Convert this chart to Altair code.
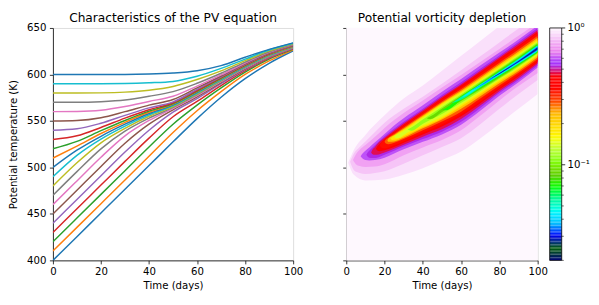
import altair as alt
import pandas as pd
import numpy as np

# ---------------- data: characteristics (left panel) ----------------
times = [0, 10, 20, 30, 40, 50, 60, 70, 80, 90, 100]
theta_start = [400, 410, 420, 430, 440, 450, 460, 470, 480, 490, 500,
               510, 520, 530, 540, 550, 560, 570, 580, 590, 600]
char_400 = [400, 425.5, 451, 476.5, 502, 527.5, 552.5, 575.5, 595.5, 612, 625.5]
char_410 = [410, 435.5, 461, 486.5, 512, 537.5, 561, 581.5, 600, 614.5, 626.5]
char_420 = [420, 445.5, 471, 496.5, 522, 546.5, 567, 585.5, 602.5, 616.5, 627.2]
char_430 = [430, 455.5, 481, 506.5, 531.5, 554.5, 571, 588, 604, 617.5, 627.8]
char_440 = [440, 465.5, 491, 516.5, 540, 559.5, 574, 590, 605.2, 618.3, 628.2]
char_450 = [450, 475.5, 501, 526, 546.5, 562, 576, 591.3, 606, 618.9, 628.6]
char_460 = [460, 485.5, 511, 534, 550.5, 563.5, 577.3, 592.2, 606.7, 619.4, 628.9]
char_470 = [470, 495.5, 520, 539, 553, 564.5, 578.3, 593, 607.3, 619.8, 629.2]
char_480 = [480, 505, 526.5, 542, 555, 565.5, 579.2, 593.7, 607.8, 620.2, 629.5]
char_490 = [490, 513, 530.5, 544.5, 556.5, 566.5, 580, 594.3, 608.3, 620.6, 629.8]
char_500 = [500, 518.5, 533.5, 546.5, 558, 567.3, 580.8, 595, 608.8, 621, 630.1]
char_510 = [510, 523, 536.5, 548.5, 559.3, 568, 581.5, 595.6, 609.3, 621.4, 630.4]
char_520 = [520, 528, 539.5, 550.5, 560.5, 568.8, 582.2, 596.2, 609.8, 621.8, 630.7]
char_530 = [530, 534, 543, 553, 562, 569.6, 583, 596.8, 610.3, 622.2, 631]
char_540 = [540, 541.5, 547.5, 556, 564, 570.5, 584, 597.5, 610.9, 622.6, 631.3]
char_550 = [550, 550.5, 553.5, 560, 567, 573, 585.5, 598.3, 611.5, 623.1, 631.7]
char_560 = [560, 560.2, 561.5, 565.5, 571, 576.5, 587.5, 599.5, 612.3, 623.7, 632.1]
char_570 = [570, 570, 570.7, 572.5, 576.5, 581.5, 590.5, 601.3, 613.3, 624.4, 632.5]
char_580 = [580, 580, 580.2, 581, 583, 587, 594.5, 603.8, 614.8, 625.3, 633]
char_590 = [590, 590, 590, 590.2, 591, 592.5, 598, 606.5, 616.5, 626.3, 633.5]
char_600 = [600, 600, 600, 600, 600.4, 601.5, 604, 609.5, 618.5, 627, 634]
characteristics = [char_400, char_410, char_420, char_430, char_440, char_450,
                   char_460, char_470, char_480, char_490, char_500, char_510,
                   char_520, char_530, char_540, char_550, char_560, char_570,
                   char_580, char_590, char_600]

# ---------------- data: PV depletion contours (right panel) ----------------
# contour level k means depletion value 10**(-k/10); each: (times, lower theta, upper theta)
contour_levels = [0.2, 0.5, 1, 1.5, 2, 2.5, 3, 3.5, 4, 5, 6, 7, 8, 9, 10, 11, 12, 13, 14, 15]
ct_02 = ([1, 4, 10, 20, 30, 40, 50, 60, 70, 80, 90, 100],
         [505, 492, 486, 487, 492, 499, 508, 517, 531, 547, 563, 579],
         [505, 519, 535, 556, 574, 588, 604, 620, 636, 652, 668, 684])
ct_05 = ([2, 4, 7, 10, 15, 20, 30, 40, 50, 60, 70, 80, 90, 100],
         [506, 497, 494, 493, 494, 496, 504, 513, 522, 531.5, 546.5, 563, 579, 594],
         [506, 515, 522, 528, 538, 548, 563, 576, 590, 604.5, 619.5, 634.5, 649.5, 664.5])
ct_1 = ([3.5, 5, 7, 10, 15, 20, 25, 30, 40, 50, 60, 70, 80, 90, 100],
        [508, 503.5, 501.5, 500.5, 501, 503.5, 508, 513, 521.5, 529.5, 540, 555.5, 572, 587.5, 601.5],
        [508, 514, 519, 524, 533, 542.5, 551, 558.5, 572, 586, 599.5, 613.5, 627.5, 641.5, 656])
ct_15 = ([5.5, 6.5, 8, 10, 12, 15, 20, 25, 30, 40, 50, 60, 70, 80, 90, 100],
         [510, 507, 505.5, 504.5, 504.5, 505, 508, 513, 518, 526, 534, 544.5, 559.5, 575.5, 590.3, 605.5],
         [510, 514, 517.5, 521, 524, 529.5, 538, 546.5, 554.5, 568.5, 582.5, 596.5, 610.5, 624.5, 639, 654])
ct_2 = ([7.5, 8.5, 10, 12, 15, 20, 25, 30, 40, 50, 60, 70, 80, 90, 100],
        [512, 509.5, 508, 507.5, 508, 510.5, 515, 519.5, 527.5, 535.5, 546, 561, 577, 591.7, 607.5],
        [512, 515, 518, 521.5, 527, 536, 545, 553, 567, 581.5, 595, 609.5, 623.5, 637.5, 652.6])
ct_25 = ([10.5, 11, 12, 14, 17, 20, 25, 30, 40, 50, 60, 70, 80, 90, 100],
         [513.5, 512, 510.5, 510, 511, 513.5, 518, 522.5, 530.5, 538.5, 549, 564, 580, 594, 609.7],
         [513.5, 515.5, 518, 522, 528, 533.5, 541.5, 549, 563, 578, 591.5, 606, 620.5, 635, 650])
ct_3 = ([13, 13.5, 15, 17, 20, 25, 30, 40, 50, 60, 70, 80, 90, 100],
        [516, 514.5, 513.5, 514, 516, 520, 524.5, 533, 541, 552, 566.5, 582, 596, 611.5],
        [516, 518.5, 522, 527, 532, 540, 547.5, 561.5, 576, 589.5, 604, 618.5, 633, 647.8])
ct_35 = ([15.5, 16, 17.5, 20, 25, 30, 40, 50, 60, 70, 80, 90, 100],
         [520, 518.5, 517.5, 518.5, 522, 526.5, 535.5, 544, 555, 569, 584, 598, 613],
         [520, 522, 525.5, 530.5, 538.5, 546, 560, 574.5, 588, 602.5, 617, 631, 645.9])
ct_4 = ([17.5, 18, 19.5, 22, 25, 30, 40, 50, 60, 70, 80, 90, 100],
        [524, 522, 520.5, 521.5, 524, 528, 537.5, 546.5, 557.4, 571, 585.5, 599.3, 614.4],
        [524, 526, 529.5, 533.5, 537.5, 545, 559, 573, 586, 600.8, 615.2, 629.4, 644.3])
ct_5 = ([20, 20.5, 22, 25, 30, 40, 50, 60, 70, 80, 90, 100],
        [527.5, 526, 525, 526.5, 530.5, 540, 549.5, 560, 574, 588.2, 601.8, 616.6],
        [527.5, 529.5, 532, 536, 543, 557, 571, 584, 598.4, 612.7, 626.8, 641.7])
ct_6 = ([21.5, 22, 25, 30, 40, 50, 60, 70, 80, 90, 100],
        [529, 527.5, 528, 532, 542, 551.5, 563, 576.6, 590.4, 603.8, 618.4],
        [529, 531, 535, 541.5, 555.5, 569.5, 582.5, 596.5, 610.7, 624.7, 639.5])
ct_7 = ([23, 24, 26, 30, 40, 50, 60, 70, 80, 90, 100],
        [531, 529.5, 530, 533.5, 543.5, 553, 565.5, 578.8, 592.3, 605.5, 620],
        [531, 533, 535.5, 540.5, 554.5, 568.5, 581, 594.9, 609, 622.9, 637.6])
ct_8 = ([25, 26, 28, 30, 40, 50, 60, 70, 80, 90, 100],
        [533, 531.5, 532, 535, 545, 554.5, 567.5, 580.7, 593.9, 606.9, 621.3],
        [533, 535, 537, 539.5, 553.5, 567.5, 580, 593.5, 607.5, 621.4, 636])
ct_9 = ([32, 34, 40, 50, 60, 70, 80, 90, 100],
        [541, 539.5, 547, 557.5, 569.5, 582.3, 595.3, 608.2, 622.5],
        [541, 543, 551.5, 565, 578.5, 592.3, 606.2, 620, 634.6])
ct_10 = ([42, 44, 50, 60, 70, 80, 90, 100],
         [553, 552, 559.5, 571.5, 583.8, 596.5, 609.4, 623.3],
         [553, 555, 563.5, 577, 591.2, 605.1, 618.8, 633.4])
ct_11 = ([50, 52, 60, 70, 80, 90, 100],
         [562, 561.5, 572.5, 585, 597.7, 610.4, 624],
         [562, 564, 576.5, 590.2, 604, 617.7, 632.6])
ct_12 = ([55, 60, 70, 80, 90, 100],
         [569, 572.8, 586, 598.5, 611.2, 624.7],
         [569, 576, 589.5, 603.3, 617, 631.8])
ct_13 = ([60, 62, 70, 80, 90, 100],
         [575, 576.5, 587, 599.5, 612, 625.3],
         [575, 578, 588.8, 602.3, 616, 631])
ct_14 = ([65, 70, 80, 90, 100],
         [582.5, 587.5, 600.3, 612.8, 626],
         [582.5, 588.4, 601.7, 615.2, 630.3])
ct_15 = ([72, 80, 90, 100],
         [592, 600.6, 613.4, 626.8],
         [592, 601.4, 614.6, 629.3])
contours = [ct_02, ct_05, ct_1, ct_15, ct_2, ct_25, ct_3, ct_35, ct_4, ct_5, ct_6,
            ct_7, ct_8, ct_9, ct_10, ct_11, ct_12, ct_13, ct_14, ct_15]

x_ticks = [0, 20, 40, 60, 80, 100]
y_ticks = [400, 450, 500, 550, 600, 650]
cbar_major = [1.0, 0.1]
cbar_major_labels = ['10⁰', '10⁻¹']
cbar_minor = [0.02, 0.03, 0.04, 0.05, 0.06, 0.07, 0.08, 0.09,
              0.2, 0.3, 0.4, 0.5, 0.6, 0.7, 0.8, 0.9]
VMIN, VMAX = 0.02, 1.0

# ---------------- style ----------------
FONT = "DejaVu Sans"
TAB10 = ['#1f77b4', '#ff7f0e', '#2ca02c', '#d62728', '#9467bd',
         '#8c564b', '#e377c2', '#7f7f7f', '#bcbd22', '#17becf']
PW, PH = 246, 238            # left plot area
RW = 196                     # right plot area width
CB_X0, CB_X1 = 208.3, 220.6  # colorbar position relative to right plot area

# gist_ncar colormap (segment data)
_ncar = {
    'red': [(0.0, 0.0), (0.3098, 0.0), (0.3725, 0.3993), (0.4235, 0.5003), (0.5333, 1.0),
            (0.7922, 1.0), (0.8471, 0.6218), (0.8980, 0.9235), (1.0, 0.9961)],
    'green': [(0.0, 0.0), (0.0510, 0.3722), (0.1059, 0.0), (0.1569, 0.7202), (0.1608, 0.7537),
              (0.1647, 0.7752), (0.2157, 1.0), (0.2588, 0.9804), (0.2706, 0.9804), (0.3176, 1.0),
              (0.3686, 0.8081), (0.4275, 1.0), (0.5216, 1.0), (0.6314, 0.7292), (0.6863, 0.2796),
              (0.7451, 0.0), (0.7922, 0.0), (0.8431, 0.1753), (0.8980, 0.5), (1.0, 0.9725)],
    'blue': [(0.0, 0.5020), (0.0510, 0.0222), (0.1098, 1.0), (0.2039, 1.0), (0.2627, 0.6145),
             (0.3216, 0.0), (0.4157, 0.0), (0.4745, 0.2342), (0.5333, 0.0), (0.7922, 0.0),
             (0.8431, 1.0), (0.8980, 0.9341), (1.0, 0.9961)],
}
pos = np.linspace(0, 1, 96)
chan = {}
for c, seg in _ncar.items():
    chan[c] = np.interp(pos, [s[0] for s in seg], [s[1] for s in seg])
cmap_hex = ['#%02x%02x%02x' % (int(round(r * 255)), int(round(g * 255)), int(round(b * 255)))
            for r, g, b in zip(chan['red'], chan['green'], chan['blue'])]
cmap_dom = [float(VMIN ** (1 - p)) for p in pos]
cscale = alt.Scale(type='log', domain=cmap_dom, range=cmap_hex, interpolate='rgb', clamp=True)

xscale = alt.Scale(domain=[0, 100], nice=False, zero=False)
yscale = alt.Scale(domain=[400, 650], nice=False, zero=False)
cb_scale = alt.Scale(type='log', domain=[VMIN, VMAX], nice=False)


def x_axis():
    return alt.Axis(values=x_ticks, title='Time (days)', grid=False, tickSize=3.6, tickWidth=0.8,
                    tickColor='black', domainColor='black', domainWidth=0.8,
                    labelFont=FONT, labelFontSize=10.4, labelColor='black', labelPadding=3,
                    labelFlush=False, titleFont=FONT, titleFontSize=10.4, titleFontWeight='normal',
                    titleColor='black', titlePadding=4)


def y_axis(labels=True):
    return alt.Axis(values=y_ticks, title='Potential temperature (K)' if labels else None,
                    labels=labels, grid=False, tickSize=3.6, tickWidth=0.8, tickColor='black',
                    domainColor='black', domainWidth=0.8, labelFont=FONT, labelFontSize=10.4,
                    labelColor='black', labelPadding=3.6, labelFlush=False, titleFont=FONT,
                    titleFontSize=10.4, titleFontWeight='normal', titleColor='black',
                    titlePadding=8)


def title(txt):
    return alt.TitleParams(txt, font=FONT, fontSize=12.5, fontWeight='normal', color='black',
                           anchor='middle', offset=-3.5, dy=-2)


# ---------------- left panel ----------------
line_layers = []
for i, th0 in enumerate(theta_start):
    df = pd.DataFrame({'t': times, 'theta': characteristics[i]})
    line_layers.append(
        alt.Chart(df).mark_line(color=TAB10[i % 10], strokeWidth=1.5, interpolate='monotone',
                                clip=True)
        .encode(x=alt.X('t:Q', scale=xscale, axis=x_axis()),
                y=alt.Y('theta:Q', scale=yscale, axis=y_axis(True)))
    )
left = alt.layer(*line_layers).properties(width=PW, height=PH,
                                          title=title('Characteristics of the PV equation'))

# ---------------- right panel: heat map ----------------
bg = pd.DataFrame({'t0': [0], 't1': [100], 'th0': [400], 'th1': [650], 'v': [1.0]})
heat_layers = [
    alt.Chart(bg).mark_rect().encode(
        x=alt.X('t0:Q', scale=xscale, axis=x_axis()), x2='t1',
        y=alt.Y('th0:Q', scale=yscale, axis=y_axis(False)), y2='th1',
        color=alt.Color('v:Q', scale=cscale, legend=None))
]
for k, lev in enumerate(contour_levels):
    nxt = contour_levels[k + 1] if k + 1 < len(contour_levels) else lev + 1.0
    fill_val = 10 ** (-(lev + nxt) / 20.0)
    tt, lo, hi = contours[k]
    df = pd.DataFrame({'t': tt, 'lo': lo, 'hi': hi, 'v': [fill_val] * len(tt)})
    heat_layers.append(
        alt.Chart(df).mark_area(interpolate='monotone', clip=True).encode(
            x=alt.X('t:Q', scale=xscale, axis=x_axis()),
            y=alt.Y('hi:Q', scale=yscale, axis=y_axis(False)), y2='lo',
            color=alt.Color('v:Q', scale=cscale, legend=None))
    )
heat = alt.layer(*heat_layers)

# ---------------- colorbar (drawn beside the heat map) ----------------
edges = np.logspace(np.log10(VMIN), 0, 161)
cb = pd.DataFrame({'lo': edges[:-1], 'hi': edges[1:], 'v': np.sqrt(edges[:-1] * edges[1:])})
cb_rect = alt.Chart(cb).mark_rect().encode(
    x=alt.value(CB_X0), x2=alt.value(CB_X1),
    y=alt.Y('lo:Q', scale=cb_scale, axis=None), y2='hi',
    color=alt.Color('v:Q', scale=cscale, legend=None))
cb_frame = alt.Chart(pd.DataFrame({'a': [0]})).mark_rect(
    fillOpacity=0, stroke='black', strokeWidth=0.8).encode(
    x=alt.value(CB_X0), x2=alt.value(CB_X1), y=alt.value(0), y2=alt.value(PH))
maj = pd.DataFrame({'m': cbar_major, 'lab': cbar_major_labels})
cb_major_ticks = alt.Chart(maj).mark_rule(color='black', strokeWidth=0.8).encode(
    x=alt.value(CB_X1), x2=alt.value(CB_X1 + 3.6),
    y=alt.Y('m:Q', scale=cb_scale, axis=None))
cb_labels = alt.Chart(maj).mark_text(font=FONT, fontSize=10.4, color='black', align='left',
                                     baseline='middle').encode(
    x=alt.value(CB_X1 + 6), y=alt.Y('m:Q', scale=cb_scale, axis=None), text='lab:N')
mnr = pd.DataFrame({'m': cbar_minor})
cb_minor_ticks = alt.Chart(mnr).mark_rule(color='black', strokeWidth=0.6).encode(
    x=alt.value(CB_X1), x2=alt.value(CB_X1 + 2.1),
    y=alt.Y('m:Q', scale=cb_scale, axis=None))
cbar = alt.layer(cb_rect, cb_frame, cb_major_ticks, cb_minor_ticks, cb_labels)

right = alt.layer(heat, cbar).resolve_scale(y='independent').properties(
    width=RW, height=PH, title=title('Potential vorticity depletion'))

chart = alt.hconcat(left, right, spacing=54.4, bounds='flush').properties(
    padding=0).configure_view(stroke='black', strokeWidth=0.8).configure(background='white')

chart.save("out.html", embed_options={"renderer": "svg", "actions": False})
